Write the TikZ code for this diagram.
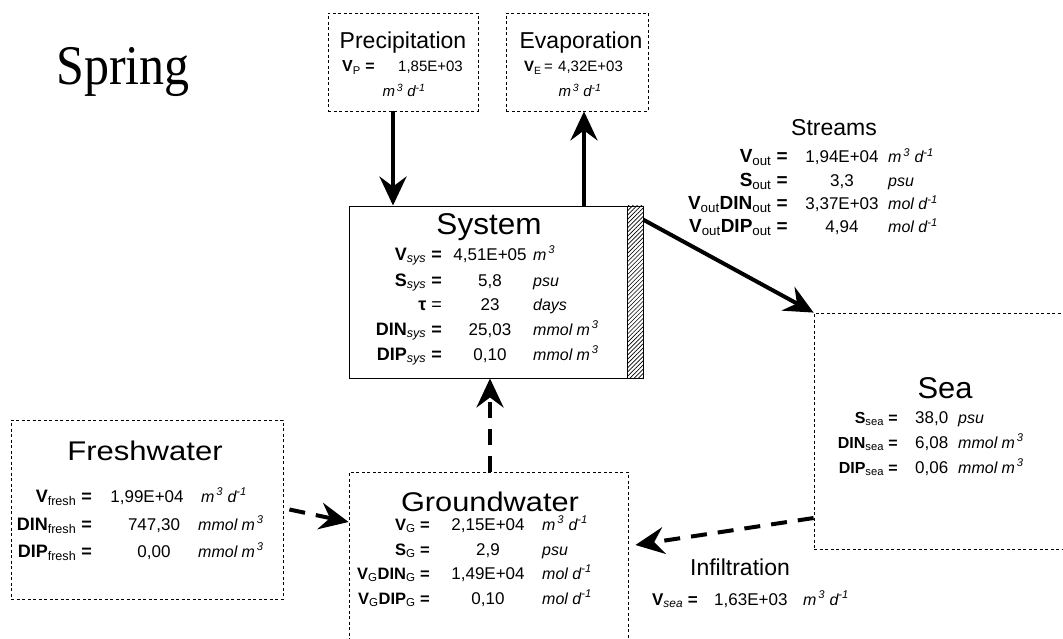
\documentclass[tikz,border=0pt]{standalone}
\usepackage{fontspec}
\setmainfont{Liberation Sans}
\newfontfamily\springfont{Liberation Serif}
\usetikzlibrary{arrows.meta,patterns,patterns.meta}
\newcommand\subi[1]{\textsubscript{\normalfont\itshape #1}}
\newcommand\subu[1]{\textsubscript{\normalfont #1}}
\newcommand\uflow{m\textsuperscript{\,3}~d\textsuperscript{-1}}
\newcommand\uconc{mmol m\textsuperscript{\,3}}
\newcommand\umol{mol d\textsuperscript{-1}}
\tikzset{
  box/.style={draw, dash pattern=on 3pt off 2.5pt, line width=0.8pt, inner sep=0pt},
  sysbox/.style={draw, line width=0.9pt, inner sep=0pt},
  ttl/.style={font=\fontsize{30}{32}\selectfont, anchor=base, inner sep=0pt},
  sttl/.style={font=\fontsize{23}{26}\selectfont, anchor=base, inner sep=0pt},
  lab/.style={font=\fontsize{16}{18}\selectfont\bfseries, anchor=base east, inner sep=0pt},
  val/.style={font=\fontsize{17}{19}\selectfont, anchor=base, inner sep=0pt},
  valw/.style={font=\fontsize{17}{19}\selectfont, anchor=base west, inner sep=0pt},
  unit/.style={font=\fontsize{16}{18}\selectfont\itshape, anchor=base west, inner sep=0pt},
  sval/.style={font=\fontsize{15}{17}\selectfont, anchor=base west, inner sep=0pt},
  sunit/.style={font=\fontsize{15}{17}\selectfont\itshape, anchor=base, inner sep=0pt},
  flow/.style={line width=4pt, -{Stealth[length=29pt,width=27pt,inset=10pt]}},
  dflow/.style={flow, dash pattern=on 16pt off 11pt},
}
\begin{document}
\begin{tikzpicture}[x=1pt,y=-1pt]
\clip (0,0) rectangle (1063,639);
\fill[white] (0,0) rectangle (1063,639);

% title
\node[anchor=base west, inner sep=0pt, font=\springfont\fontsize{50}{54}\selectfont, yscale=1.12] (spring) at (56,85) {Spring};

% boxes
\node[box, minimum width=150pt, minimum height=98pt] (prec) at (403,62) {};
\node[box, minimum width=142pt, minimum height=98pt] (evap) at (577,62) {};
\node[sysbox, minimum width=278pt, minimum height=172pt] (sys) at (488,292) {};
\node[draw, line width=0.9pt, pattern={Lines[angle=45,distance=3pt,line width=0.6pt]}, minimum width=16pt, minimum height=172pt, inner sep=0pt] (hatch) at (635,292) {};
\node[box, minimum width=261pt, minimum height=236pt] (sea) at (944.5,431) {};
\node[box, minimum width=272pt, minimum height=179pt] (fresh) at (147,509.5) {};
\node[box, minimum width=279pt, minimum height=178pt] (ground) at (488.5,561) {};

% Precipitation
\node[sttl] (prect) at (403,49) {Precipitation};
\node[lab, anchor=base west, font=\fontsize{16}{18}\selectfont\bfseries] (precl) at (342,72) {V\subu{P} =};
\node[sval] (precv) at (398,72) {1,85E+03};
\node[sunit] (precu) at (404,97) {\uflow};

% Evaporation
\node[sttl] (evapt) at (581,49) {Evaporation};
\node[lab, font=\fontsize{15}{17}\selectfont\bfseries] (evapl) at (553,72) {V\subu{E}\,\mdseries=};
\node[sval] (evapv) at (558,72) {4,32E+03};
\node[sunit] (evapu) at (580,97) {\uflow};

% System
\node[ttl, xscale=1.05] (syst) at (489,235) {System};
\begin{scope}[lab/.append style={font=\fontsize{18}{20}\selectfont\bfseries}]
\node[lab] (sysl1) at (442,260) {V\subi{sys} =};
\node[val] (sysv1) at (490,260) {4,51E+05};
\node[unit] (sysu1) at (533,260) {m\textsuperscript{\,3}};
\node[lab] (sysl2) at (442,286) {S\subi{sys} =};
\node[val] (sysv2) at (490,286) {5,8};
\node[unit] (sysu2) at (533,286) {psu};
\node[lab] (sysl3) at (442,310) {τ \mdseries=};
\node[val] (sysv3) at (490,310) {23};
\node[unit] (sysu3) at (533,310) {days};
\node[lab] (sysl4) at (442,335) {DIN\subi{sys} =};
\node[val] (sysv4) at (490,335) {25,03};
\node[unit] (sysu4) at (533,335) {\uconc};
\node[lab] (sysl5) at (442,360) {DIP\subi{sys} =};
\node[val] (sysv5) at (490,360) {0,10};
\node[unit] (sysu5) at (533,360) {\uconc};
\end{scope}

% Streams
\node[sttl] (strt) at (834,136) {Streams};
\begin{scope}[lab/.append style={font=\fontsize{19}{21}\selectfont\bfseries}]
\node[lab] (strl1) at (788,163) {V\subu{out} =};
\node[val] (strv1) at (842,163) {1,94E+04};
\node[unit] (stru1) at (888,163) {\uflow};
\node[lab] (strl2) at (788,187) {S\subu{out} =};
\node[val] (strv2) at (842,187) {3,3};
\node[unit] (stru2) at (888,187) {psu};
\node[lab] (strl3) at (788,210) {V\subu{out}DIN\subu{out} =};
\node[val] (strv3) at (842,210) {3,37E+03};
\node[unit] (stru3) at (888,210) {\umol};
\node[lab] (strl4) at (788,233) {V\subu{out}DIP\subu{out} =};
\node[val] (strv4) at (842,233) {4,94};
\node[unit] (stru4) at (888,233) {\umol};
\end{scope}

% Sea
\node[ttl, xscale=1.03] (seat) at (945,398) {Sea};
\node[lab] (seal1) at (898,423) {S\subu{sea} =};
\node[valw] (seav1) at (915,423) {38,0};
\node[unit] (seau1) at (958,423) {psu};
\node[lab] (seal2) at (898,448) {DIN\subu{sea} =};
\node[valw] (seav2) at (915,448) {6,08};
\node[unit] (seau2) at (958,448) {\uconc};
\node[lab] (seal3) at (898,473) {DIP\subu{sea} =};
\node[valw] (seav3) at (915,473) {0,06};
\node[unit] (seau3) at (958,473) {\uconc};

% Infiltration
\node[sttl] (inft) at (740,575) {Infiltration};
\node[lab, font=\fontsize{17}{19}\selectfont\bfseries] (infl) at (698,605) {V\subi{sea} =};
\node[valw] (infv) at (714,605) {1,63E+03};
\node[unit] (infu) at (803,605) {\uflow};

% Freshwater
\node[ttl, font=\fontsize{27}{29}\selectfont, xscale=1.15] (frest) at (145,460) {Freshwater};
\begin{scope}[lab/.append style={font=\fontsize{18}{20}\selectfont\bfseries}]
\node[lab] (fresl1) at (92,502) {V\subu{fresh} =};
\node[val] (fresv1) at (147,502) {1,99E+04};
\node[unit] (fresu1) at (201,502) {\uflow};
\node[lab] (fresl2) at (92,530) {DIN\subu{fresh} =};
\node[val] (fresv2) at (154,530) {747,30};
\node[unit] (fresu2) at (198,530) {\uconc};
\node[lab] (fresl3) at (92,557) {DIP\subu{fresh} =};
\node[val] (fresv3) at (154,557) {0,00};
\node[unit] (fresu3) at (198,557) {\uconc};
\end{scope}

% Groundwater
\node[ttl, font=\fontsize{27}{29}\selectfont, xscale=1.14] (grout) at (490,511) {Groundwater};
\begin{scope}[lab/.append style={font=\fontsize{16.5}{18}\selectfont\bfseries}]
\node[lab] (groul1) at (430,530) {V\subu{G} =};
\node[val] (grouv1) at (488,530) {2,15E+04};
\node[unit] (grouu1) at (542,530) {\uflow};
\node[lab] (groul2) at (430,555) {S\subu{G} =};
\node[val] (grouv2) at (488,555) {2,9};
\node[unit] (grouu2) at (542,555) {psu};
\node[lab] (groul3) at (430,579) {V\subu{G}DIN\subu{G} =};
\node[val] (grouv3) at (488,579) {1,49E+04};
\node[unit] (grouu3) at (542,579) {\umol};
\node[lab] (groul4) at (430,604) {V\subu{G}DIP\subu{G} =};
\node[val] (grouv4) at (488,604) {0,10};
\node[unit] (grouu4) at (542,604) {\umol};
\end{scope}

% connectors
\draw[flow] ([xshift=-10pt]prec.south) -- ([xshift=-95pt]sys.north);
\draw[flow] ([xshift=96pt]sys.north) -- ([xshift=7pt]evap.south);
\draw[flow] ([yshift=-14pt]hatch.north east) -- (sea.north west);
\draw[dflow] ([xshift=1.5pt]ground.north) -- ([xshift=2pt]sys.south);
\draw[dflow] ([xshift=6pt]fresh.east) -- ([yshift=39pt]ground.west);
\draw[dflow] ([yshift=-87pt]sea.west) -- ([xshift=7pt,yshift=16pt]ground.east);
\end{tikzpicture}
\end{document}
